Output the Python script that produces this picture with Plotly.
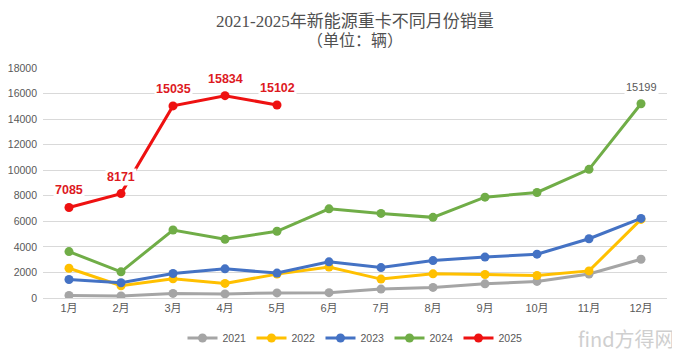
import plotly.graph_objects as go

months = ["1月", "2月", "3月", "4月", "5月", "6月", "7月", "8月", "9月", "10月", "11月", "12月"]

sales_2021 = [200, 160, 360, 320, 400, 420, 700, 830, 1110, 1300, 1880, 3030]
sales_2022 = [2330, 960, 1500, 1140, 1870, 2420, 1480, 1890, 1840, 1760, 2120, 6150]
sales_2023 = [1450, 1190, 1920, 2280, 1950, 2830, 2380, 2930, 3200, 3430, 4640, 6230]
sales_2024 = [3630, 2050, 5320, 4600, 5220, 6980, 6620, 6310, 7890, 8260, 10070, 15199]
sales_2025 = [7085, 8171, 15035, 15834, 15102]

series = [
    ("2021", sales_2021, "#a5a5a5"),
    ("2022", sales_2022, "#ffc000"),
    ("2023", sales_2023, "#4472c4"),
    ("2024", sales_2024, "#70ad47"),
    ("2025", sales_2025, "#ee1111"),
]

title_line1 = "2021-2025年新能源重卡不同月份销量"
title_line2 = "（单位：辆）"

# page body has an 8px default margin; plot area should sit at x 43..667, y 68..298 on screen
OFF = 8
PX0, PX1, PY0, PY1 = 43, 667, 68, 298
PW, PH = PX1 - PX0, PY1 - PY0


def px(x):
    return (x - PX0) / PW


def py(y):
    return (PY1 - y) / PH


fig = go.Figure()
for name, vals, color in series:
    fig.add_trace(go.Scatter(
        x=months[:len(vals)], y=vals, name=name, mode="lines+markers",
        line=dict(color=color, width=3),
        marker=dict(color=color, size=9),
    ))

annotations = []
for m, v in zip(months, sales_2025):
    annotations.append(dict(
        x=m, y=v, xref="x", yref="y", text=f"<b>{v}</b>", showarrow=False,
        yshift=17, bgcolor="white", borderpad=1,
        font=dict(family="Liberation Sans, Arial", size=12.5, color="#dd1a1f"),
    ))
annotations.append(dict(
    x=months[11], y=sales_2024[11], xref="x", yref="y", text=str(sales_2024[11]),
    showarrow=False, yshift=17, bgcolor="white",
    font=dict(family="Liberation Sans, Arial", size=11, color="#595959"),
))
annotations.append(dict(
    x=0.5, y=py(21.5), xref="paper", yref="paper", text=title_line1,
    showarrow=False, xanchor="center", yanchor="middle",
    font=dict(family="Liberation Serif, Noto Sans CJK SC", size=17, color="#505050"),
))
annotations.append(dict(
    x=0.5, y=py(40.5), xref="paper", yref="paper", text=title_line2,
    showarrow=False, xanchor="center", yanchor="middle",
    font=dict(family="Liberation Serif, Noto Sans CJK SC", size=16, color="#505050"),
))
annotations.append(dict(
    x=px(677), y=py(338), xref="paper", yref="paper",
    text="find方得网", showarrow=False, xanchor="right", yanchor="middle",
    font=dict(family="Noto Sans CJK SC", size=20, color="#cfcfcf"),
))

fig.update_layout(
    width=680 - OFF, height=355 - OFF,
    margin=dict(l=PX0 - OFF, r=680 - PX1, t=PY0 - OFF, b=355 - PY1, autoexpand=False),
    paper_bgcolor="white", plot_bgcolor="white",
    showlegend=True,
    legend=dict(orientation="h", x=0.5, xanchor="center", y=py(338),
                yanchor="middle", font=dict(family="Liberation Sans, Arial", size=10.5, color="#595959"),
                itemwidth=30, entrywidth=24, tracegroupgap=0, bgcolor="rgba(0,0,0,0)"),
    annotations=annotations,
    font=dict(family="Liberation Sans, Noto Sans CJK SC", color="#595959"),
)
fig.update_xaxes(type="category", range=[-0.5, 11.5], showgrid=False, automargin=False,
                 showline=True, linecolor="#d9d9d9", linewidth=1, ticks="",
                 tickfont=dict(family="Liberation Sans, Noto Sans CJK SC", size=11, color="#595959"))
fig.update_yaxes(range=[0, 18000], dtick=2000, tickformat="d", showgrid=True, gridcolor="#d9d9d9",
                 gridwidth=1, zeroline=False, showline=False, ticks="", automargin=False,
                 ticklabelstandoff=5,
                 tickfont=dict(family="Liberation Sans, Arial", size=10.5, color="#595959"))

fig.write_html("out.html")
